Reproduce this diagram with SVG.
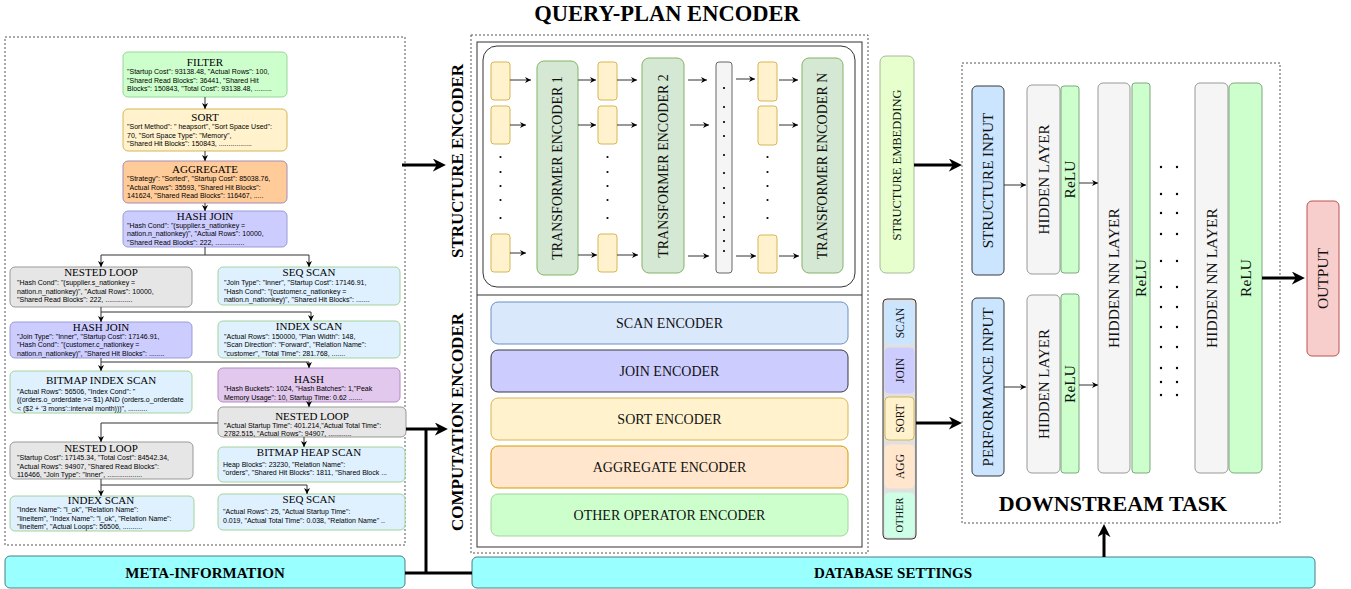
<svg xmlns="http://www.w3.org/2000/svg" width="1351" height="589" viewBox="0 0 1351 589">
<defs>
<style>
.ti{font-family:"Liberation Serif","Times New Roman",serif;font-size:11px;text-anchor:middle;fill:#000}
.d{font-family:"Liberation Sans",Arial,sans-serif;font-size:7px;fill:#000}
.s{font-family:"Liberation Serif","Times New Roman",serif;fill:#111}
.b{font-family:"Liberation Serif","Times New Roman",serif;font-weight:bold;fill:#000}
.r{text-anchor:middle}
.cn{fill:none;stroke:#333;stroke-width:1;marker-end:url(#ah)}
.tk{fill:none;stroke:#000;stroke-width:3}
.tka{fill:none;stroke:#000;stroke-width:3;marker-end:url(#ahb)}
.dash{fill:none;stroke:#555;stroke-width:1;stroke-dasharray:2 2}
.yb{fill:#fff2cc;stroke:#d6b656}
.te{fill:#d5e8d4;stroke:#82b366}
.blu{fill:#dff0fe;stroke:#a3d49c}
.gry{fill:#e6e6e6;stroke:#999}
.hl{fill:#f5f5f5;stroke:#999}
.rl{fill:#ccffcc;stroke:#7fa77f}
.cy{fill:#99ffff;stroke:#4d7f7f}
</style>
<marker id="ah" viewBox="0 0 10 10" refX="10" refY="5" markerWidth="6" markerHeight="6" markerUnits="userSpaceOnUse" orient="auto"><path d="M0,0 L10,5 L0,10 L3,5 z" fill="#000"/></marker>
<marker id="ahb" viewBox="0 0 10 10" refX="7" refY="5" markerWidth="13" markerHeight="13" markerUnits="userSpaceOnUse" orient="auto"><path d="M0,0 L10,5 L0,10 L3,5 z" fill="#000"/></marker>
</defs>
<rect width="1351" height="589" fill="#fff"/>

<!-- Panels -->
<rect class="dash" x="5" y="37" width="400" height="508"/>
<rect class="dash" x="471" y="35" width="397" height="518"/>
<rect x="477" y="42" width="385" height="505" fill="none" stroke="#333"/>
<line x1="477" y1="295" x2="862" y2="295" stroke="#333"/>
<rect x="483" y="46" width="372" height="241" rx="14" fill="none" stroke="#333"/>
<rect class="dash" x="962" y="63" width="318" height="460"/>

<text class="b r" x="667" y="21" font-size="22.5">QUERY-PLAN ENCODER</text>
<text class="b r" transform="translate(457,161) rotate(-90)" dy="0.35em" font-size="17">STRUCTURE ENCODER</text>
<text class="b r" transform="translate(457,422) rotate(-90)" dy="0.35em" font-size="17">COMPUTATION ENCODER</text>
<text class="b r" x="1113" y="511" font-size="22">DOWNSTREAM TASK</text>

<!-- Tree nodes -->
<g id="filter">
<rect x="123" y="52" width="164" height="45" rx="5" fill="#ccffcc" stroke="#99d699"/>
<text class="ti" x="205" y="66">FILTER</text>
<text class="d" x="127" y="74">"Startup Cost": 93138.48, "Actual Rows": 100,</text>
<text class="d" x="127" y="82.5">"Shared Read Blocks": 36441, "Shared Hit</text>
<text class="d" x="127" y="91">Blocks": 150843, "Total Cost": 93138.48, .........</text>
</g>
<g id="sort">
<rect x="123" y="109" width="164" height="42" rx="5" class="yb"/>
<text class="ti" x="205" y="121">SORT</text>
<text class="d" x="127" y="129">"Sort Method": " heapsort", "Sort Space Used":</text>
<text class="d" x="127" y="137.5">70, "Sort Space Type": "Memory",</text>
<text class="d" x="127" y="146">"Shared Hit Blocks": 150843, .................</text>
</g>
<g id="aggregate">
<rect x="123" y="161" width="164" height="42" rx="5" fill="#ffcc99" stroke="#a68bb5"/>
<text class="ti" x="205" y="172.5">AGGREGATE</text>
<text class="d" x="127" y="181">"Strategy": "Sorted", "Startup Cost": 85038.76,</text>
<text class="d" x="127" y="189.5">"Actual Rows": 35593, "Shared Hit Blocks":</text>
<text class="d" x="127" y="198">141624, "Shared Read Blocks": 116467, .....</text>
</g>
<g id="hashjoin1">
<rect x="123" y="211" width="164" height="36" rx="5" fill="#ccccff" stroke="#9b9bd9"/>
<text class="ti" x="205" y="220">HASH JOIN</text>
<text class="d" x="127" y="227.5">"Hash Cond": "(supplier.s_nationkey =</text>
<text class="d" x="127" y="236">nation.n_nationkey)", "Actual Rows": 10000,</text>
<text class="d" x="127" y="244.5">"Shared Read Blocks": 222, ...............</text>
</g>
<g id="nestedloop1">
<rect x="10" y="267" width="182" height="40" rx="5" class="gry"/>
<text class="ti" x="101" y="276" font-size="12">NESTED LOOP</text>
<text class="d" x="17" y="285">"Hash Cond": "(supplier.s_nationkey =</text>
<text class="d" x="17" y="293.5">nation.n_nationkey)", "Actual Rows": 10000,</text>
<text class="d" x="17" y="302">"Shared Read Blocks": 222, ..............</text>
</g>
<g id="seqscan1">
<rect x="218" y="267" width="182" height="38" rx="5" class="blu"/>
<text class="ti" x="309" y="276">SEQ SCAN</text>
<text class="d" x="224" y="285">"Join Type": "Inner", "Startup Cost": 17146.91,</text>
<text class="d" x="224" y="293.5">"Hash Cond": "(customer.c_nationkey =</text>
<text class="d" x="224" y="302">nation.n_nationkey)", "Shared Hit Blocks": .......</text>
</g>
<g id="hashjoin2">
<rect x="10" y="322" width="182" height="36" rx="5" fill="#ccccff" stroke="#9b9bd9"/>
<text class="ti" x="101" y="330.5">HASH JOIN</text>
<text class="d" x="17" y="338.5">"Join Type": "Inner", "Startup Cost": 17146.91,</text>
<text class="d" x="17" y="347">"Hash Cond": "(customer.c_nationkey =</text>
<text class="d" x="17" y="355.5">nation.n_nationkey)", "Shared Hit Blocks": ........</text>
</g>
<g id="indexscan1">
<rect x="218" y="321" width="182" height="37" rx="5" class="blu"/>
<text class="ti" x="309" y="330">INDEX SCAN</text>
<text class="d" x="224" y="338.5">"Actual Rows": 150000, "Plan Width": 148,</text>
<text class="d" x="224" y="347">"Scan Direction": "Forward", "Relation Name":</text>
<text class="d" x="224" y="355.5">"customer", "Total Time": 281.768, .......</text>
</g>
<g id="bitmapindexscan">
<rect x="10" y="371" width="182" height="42" rx="5" class="blu"/>
<text class="ti" x="101" y="383.5" font-size="12.5">BITMAP INDEX SCAN</text>
<text class="d" x="17" y="393.5">"Actual Rows": 56506, "Index Cond": "</text>
<text class="d" x="17" y="402">((orders.o_orderdate &gt;= $1) AND (orders.o_orderdate</text>
<text class="d" x="17" y="410.5">&lt; ($2 + '3 mons'::interval month)))", ..........</text>
</g>
<g id="hash">
<rect x="218" y="368" width="182" height="34" rx="5" fill="#e1c8ec" stroke="#b48cc4"/>
<text class="ti" x="309" y="383" font-size="12.5">HASH</text>
<text class="d" x="224" y="391">"Hash Buckets": 1024, "Hash Batches": 1,"Peak</text>
<text class="d" x="224" y="399.5">Memory Usage": 10, Startup Time: 0.62 .......</text>
</g>
<g id="nestedloop2">
<rect x="218" y="407" width="188" height="30" rx="5" class="gry"/>
<text class="ti" x="312" y="420">NESTED LOOP</text>
<text class="d" x="224" y="427.5">"Actual Startup Time": 401.214,"Actual Total Time":</text>
<text class="d" x="224" y="435.5">2782.515, "Actual Rows": 94907, ............</text>
</g>
<g id="bitmapheapscan">
<rect x="218" y="447" width="187" height="35" rx="5" class="blu"/>
<text class="ti" x="309" y="456">BITMAP HEAP SCAN</text>
<text class="d" x="223" y="466.5">Heap Blocks": 23230, "Relation Name":</text>
<text class="d" x="223" y="475">"orders", "Shared Hit Blocks": 1811, "Shared Block ...</text>
</g>
<g id="nestedloop3">
<rect x="10" y="442" width="183" height="37" rx="5" class="gry"/>
<text class="ti" x="101" y="451.5">NESTED LOOP</text>
<text class="d" x="17" y="460">"Startup Cost": 17145.34, "Total Cost": 84542.34,</text>
<text class="d" x="17" y="468.5">"Actual Rows": 94907, "Shared Read Blocks":</text>
<text class="d" x="17" y="477">116466, "Join Type": "Inner", ..................</text>
</g>
<g id="indexscan2">
<rect x="10" y="496" width="184" height="35" rx="5" class="blu"/>
<text class="ti" x="101" y="504">INDEX SCAN</text>
<text class="d" x="17" y="512">"Index Name": "l_ok", "Relation Name":</text>
<text class="d" x="17" y="520.5">"lineitem", "Index Name": "l_ok", "Relation Name":</text>
<text class="d" x="17" y="529">"lineitem", "Actual Loops": 56506, ..........</text>
</g>
<g id="seqscan2">
<rect x="218" y="494" width="187" height="36" rx="5" class="blu"/>
<text class="ti" x="309" y="503">SEQ SCAN</text>
<text class="d" x="223" y="514">"Actual Rows": 25, "Actual Startup Time":</text>
<text class="d" x="223" y="522.5">0.019, "Actual Total Time": 0.038, "Relation Name" ..</text>
</g>

<!-- Bottom bars -->
<g id="meta-information">
<rect x="5" y="556" width="400" height="32" rx="5" class="cy"/>
<text class="b r" x="205" y="578" font-size="15">META-INFORMATION</text>
</g>
<g id="database-settings">
<rect x="472" y="557" width="843" height="31" rx="5" class="cy"/>
<text class="b r" x="893" y="578" font-size="15">DATABASE SETTINGS</text>
</g>

<!-- Structure encoder -->
<g id="structure-encoder">
<rect class="yb" x="491" y="62" width="19" height="38" rx="3"/>
<rect class="yb" x="491" y="106" width="19" height="38" rx="3"/>
<rect class="yb" x="491" y="234" width="19" height="38" rx="3"/>
<rect class="yb" x="598" y="62" width="19" height="38" rx="3"/>
<rect class="yb" x="598" y="106" width="19" height="38" rx="3"/>
<rect class="yb" x="598" y="234" width="19" height="38" rx="3"/>
<rect class="yb" x="758" y="62" width="19" height="39" rx="3"/>
<rect class="yb" x="758" y="106" width="19" height="39" rx="3"/>
<rect class="yb" x="758" y="235" width="19" height="38" rx="3"/>
<g fill="#000">
<circle cx="500.5" cy="157" r="1.1"/><circle cx="500.5" cy="172" r="1.1"/><circle cx="500.5" cy="186" r="1.1"/><circle cx="500.5" cy="200" r="1.1"/><circle cx="500.5" cy="218" r="1.1"/>
<circle cx="607.5" cy="157" r="1.1"/><circle cx="607.5" cy="172" r="1.1"/><circle cx="607.5" cy="186" r="1.1"/><circle cx="607.5" cy="200" r="1.1"/><circle cx="607.5" cy="218" r="1.1"/>
<circle cx="767.5" cy="157" r="1.1"/><circle cx="767.5" cy="172" r="1.1"/><circle cx="767.5" cy="186" r="1.1"/><circle cx="767.5" cy="200" r="1.1"/><circle cx="767.5" cy="218" r="1.1"/>
</g>
</g>
<g id="transformer-encoder-1">
<rect class="te" x="537" y="61" width="41" height="214" rx="7"/>
<text class="s r" transform="translate(557.5,168) rotate(-90)" dy="0.35em" font-size="14">TRANSFORMER ENCODER 1</text>
</g>
<g id="transformer-encoder-2">
<rect class="te" x="642" y="58" width="42" height="215" rx="7"/>
<text class="s r" transform="translate(663,166) rotate(-90)" dy="0.35em" font-size="14">TRANSFORMER ENCODER 2</text>
</g>
<g id="ellipsis-column">
<rect x="716" y="62" width="16" height="211" rx="3" fill="#f5f5f5" stroke="#666"/>
<g fill="#000">
<circle cx="724" cy="88" r="1.1"/><circle cx="724" cy="107" r="1.1"/><circle cx="724" cy="122" r="1.1"/><circle cx="724" cy="136" r="1.1"/><circle cx="724" cy="155" r="1.1"/><circle cx="724" cy="173" r="1.1"/><circle cx="724" cy="188" r="1.1"/><circle cx="724" cy="203" r="1.1"/><circle cx="724" cy="217" r="1.1"/><circle cx="724" cy="230" r="1.1"/><circle cx="724" cy="241" r="1.1"/><circle cx="724" cy="251" r="1.1"/>
</g>
</g>
<g id="transformer-encoder-n">
<rect class="te" x="802" y="58" width="41" height="215" rx="7"/>
<text class="s r" transform="translate(822.5,166) rotate(-90)" dy="0.35em" font-size="14">TRANSFORMER ENCODER N</text>
</g>

<!-- Computation encoders -->
<g id="scan-encoder">
<rect x="491" y="302" width="357" height="42" rx="7" fill="#dae8fc" stroke="#6c8ebf"/>
<text class="s r" x="669.5" y="328" font-size="14">SCAN ENCODER</text>
</g>
<g id="join-encoder">
<rect x="491" y="350" width="357" height="42" rx="7" fill="#ccccff" stroke="#36393d"/>
<text class="s r" x="669.5" y="376" font-size="14">JOIN ENCODER</text>
</g>
<g id="sort-encoder">
<rect x="491" y="398" width="357" height="42" rx="7" fill="#fff2cc" stroke="#d6b656"/>
<text class="s r" x="669.5" y="424" font-size="14">SORT ENCODER</text>
</g>
<g id="aggregate-encoder">
<rect x="491" y="446" width="357" height="42" rx="7" fill="#ffe6cc" stroke="#d79b00"/>
<text class="s r" x="669.5" y="472" font-size="14">AGGREGATE ENCODER</text>
</g>
<g id="other-operator-encoder">
<rect x="491" y="494" width="357" height="42" rx="7" fill="#ccffcc" stroke="#a3d49c"/>
<text class="s r" x="669.5" y="520" font-size="14">OTHER OPERATOR ENCODER</text>
</g>

<!-- Embeddings -->
<g id="structure-embedding">
<rect x="880" y="56" width="34" height="217" rx="6" fill="#e6ffcc" stroke="#a8b89a"/>
<text class="s r" transform="translate(897,165) rotate(-90)" dy="0.35em" font-size="12.5">STRUCTURE EMBEDDING</text>
</g>
<g id="operator-embedding">
<rect x="883" y="299" width="33" height="240" rx="4" fill="#e0e0e0" stroke="#333"/>
<rect x="885" y="302" width="29" height="42" rx="4" fill="#cce5ff" stroke="#cce5ff"/>
<rect x="885" y="348" width="29" height="45" rx="4" fill="#ccccff" stroke="#ccccff"/>
<rect x="885" y="397" width="29" height="43" rx="4" fill="#fff2cc" stroke="#d6b656"/>
<rect x="885" y="445" width="29" height="43" rx="4" fill="#ffe6cc" stroke="#ffe6cc"/>
<rect x="885" y="493" width="29" height="44" rx="4" fill="#ccffe6" stroke="#ccffe6"/>
<text class="s r" transform="translate(899.5,323) rotate(-90)" dy="0.35em" font-size="11.5">SCAN</text>
<text class="s r" transform="translate(899.5,370.5) rotate(-90)" dy="0.35em" font-size="11.5">JOIN</text>
<text class="s r" transform="translate(899.5,418.5) rotate(-90)" dy="0.35em" font-size="11.5">SORT</text>
<text class="s r" transform="translate(899.5,466.5) rotate(-90)" dy="0.35em" font-size="11.5">AGG</text>
<text class="s r" transform="translate(899.5,515) rotate(-90)" dy="0.35em" font-size="10.5">OTHER</text>
</g>

<!-- Downstream -->
<g id="structure-input">
<rect x="972" y="86" width="32" height="189" rx="5" fill="#cce5ff" stroke="#36393d"/>
<text class="s r" transform="translate(988,180.5) rotate(-90)" dy="0.35em" font-size="15">STRUCTURE INPUT</text>
</g>
<g id="performance-input">
<rect x="972" y="298" width="32" height="178" rx="5" fill="#cce5ff" stroke="#36393d"/>
<text class="s r" transform="translate(988,387) rotate(-90)" dy="0.35em" font-size="15">PERFORMANCE INPUT</text>
</g>
<g id="hidden-layer-1">
<rect class="hl" x="1027" y="85" width="33" height="189" rx="5"/>
<text class="s r" transform="translate(1043.5,179.5) rotate(-90)" dy="0.35em" font-size="15" fill="#333">HIDDEN LAYER</text>
</g>
<g id="relu-1">
<rect class="rl" x="1061" y="86" width="18" height="187" rx="3"/>
<text class="s r" transform="translate(1070,179.5) rotate(-90)" dy="0.35em" font-size="15.5" fill="#333">ReLU</text>
</g>
<g id="hidden-layer-2">
<rect class="hl" x="1027" y="295" width="33" height="178" rx="5"/>
<text class="s r" transform="translate(1043.5,384) rotate(-90)" dy="0.35em" font-size="15" fill="#333">HIDDEN LAYER</text>
</g>
<g id="relu-2">
<rect class="rl" x="1061" y="294" width="18" height="179" rx="3"/>
<text class="s r" transform="translate(1070,384) rotate(-90)" dy="0.35em" font-size="15.5" fill="#333">ReLU</text>
</g>
<g id="hidden-nn-layer-1">
<rect class="hl" x="1098" y="83" width="32" height="390" rx="5"/>
<text class="s r" transform="translate(1114,278) rotate(-90)" dy="0.35em" font-size="15.5" fill="#333">HIDDEN NN LAYER</text>
</g>
<g id="relu-3">
<rect class="rl" x="1132" y="83" width="18" height="390" rx="3"/>
<text class="s r" transform="translate(1141,278) rotate(-90)" dy="0.35em" font-size="15.5" fill="#333">ReLU</text>
</g>
<g id="ellipsis-dots" fill="#000">
<circle cx="1161" cy="167" r="1.2"/><circle cx="1177" cy="167" r="1.2"/>
<circle cx="1161" cy="194" r="1.2"/><circle cx="1177" cy="194" r="1.2"/>
<circle cx="1161" cy="213" r="1.2"/><circle cx="1177" cy="213" r="1.2"/>
<circle cx="1161" cy="234" r="1.2"/><circle cx="1177" cy="234" r="1.2"/>
<circle cx="1161" cy="261" r="1.2"/><circle cx="1177" cy="261" r="1.2"/>
<circle cx="1161" cy="287" r="1.2"/><circle cx="1177" cy="287" r="1.2"/>
<circle cx="1161" cy="307" r="1.2"/><circle cx="1177" cy="307" r="1.2"/>
<circle cx="1161" cy="327" r="1.2"/><circle cx="1177" cy="327" r="1.2"/>
<circle cx="1161" cy="347" r="1.2"/><circle cx="1177" cy="347" r="1.2"/>
<circle cx="1161" cy="368" r="1.2"/><circle cx="1177" cy="368" r="1.2"/>
<circle cx="1161" cy="382" r="1.2"/><circle cx="1177" cy="382" r="1.2"/>
<circle cx="1161" cy="395" r="1.2"/><circle cx="1177" cy="395" r="1.2"/>
</g>
<g id="hidden-nn-layer-2">
<rect class="hl" x="1195" y="83" width="33" height="390" rx="5"/>
<text class="s r" transform="translate(1211.5,278) rotate(-90)" dy="0.35em" font-size="15.5" fill="#333">HIDDEN NN LAYER</text>
</g>
<g id="relu-4">
<rect class="rl" x="1229" y="83" width="33" height="390" rx="5"/>
<text class="s r" transform="translate(1245.5,278) rotate(-90)" dy="0.35em" font-size="15.5" fill="#333">ReLU</text>
</g>
<g id="output">
<rect x="1307" y="201" width="32" height="155" rx="5" fill="#f8cecc" stroke="#b85450"/>
<text class="s r" transform="translate(1323,278.5) rotate(-90)" dy="0.35em" font-size="15.5">OUTPUT</text>
</g>

<!-- Connectors -->
<g id="connectors">
<path class="cn" d="M205,97 V109"/>
<path class="cn" d="M205,151 V161"/>
<path class="cn" d="M205,203 V211"/>
<path class="cn" d="M205,247 V255 H101 V267"/>
<path class="cn" d="M205,255 H309 V267"/>
<path class="cn" d="M101,307 V322"/>
<path class="cn" d="M101,312 H311 V321"/>
<path class="cn" d="M101,358 V371"/>
<path class="cn" d="M101,362 H309 V368"/>
<path class="cn" d="M309,402 V407"/>
<path class="cn" d="M218,423 H101 V442"/>
<path class="cn" d="M304,437 V447"/>
<path class="cn" d="M101,479 V496"/>
<path class="cn" d="M101,485 H307 V494"/>

<path class="cn" d="M510,80 H531"/><path class="cn" d="M510,125 H526"/><path class="cn" d="M510,253 H526"/>
<path class="cn" d="M578,80 H596"/><path class="cn" d="M578,125 H596"/><path class="cn" d="M578,255 H597"/>
<path class="cn" d="M617,80 H637"/><path class="cn" d="M617,125 H637"/><path class="cn" d="M617,255 H638"/>
<path class="cn" d="M688,80 H707"/><path class="cn" d="M690,125 H709"/><path class="cn" d="M688,256 H709"/>
<path class="cn" d="M736,79 H755"/><path class="cn" d="M736,256 H756"/>
<path class="cn" d="M779,80 H798"/><path class="cn" d="M779,125 H798"/><path class="cn" d="M779,256 H799"/>

<path class="cn" d="M1004,185 H1026"/>
<path class="cn" d="M1004,387 H1026"/>
<path class="cn" d="M1079,183 H1098"/>
<path class="cn" d="M1079,385 H1098"/>

<path class="tka" d="M402,165 H442"/>
<path class="tka" d="M406,429 H444"/>
<path class="tk" d="M426,429 V573"/>
<path class="tk" d="M405,573 H472"/>
<path class="tka" d="M914,165 H958"/>
<path class="tka" d="M916,423 H958"/>
<path class="tka" d="M1262,278 H1301"/>
<path class="tka" d="M1104,557 V528"/>
</g>
</svg>
